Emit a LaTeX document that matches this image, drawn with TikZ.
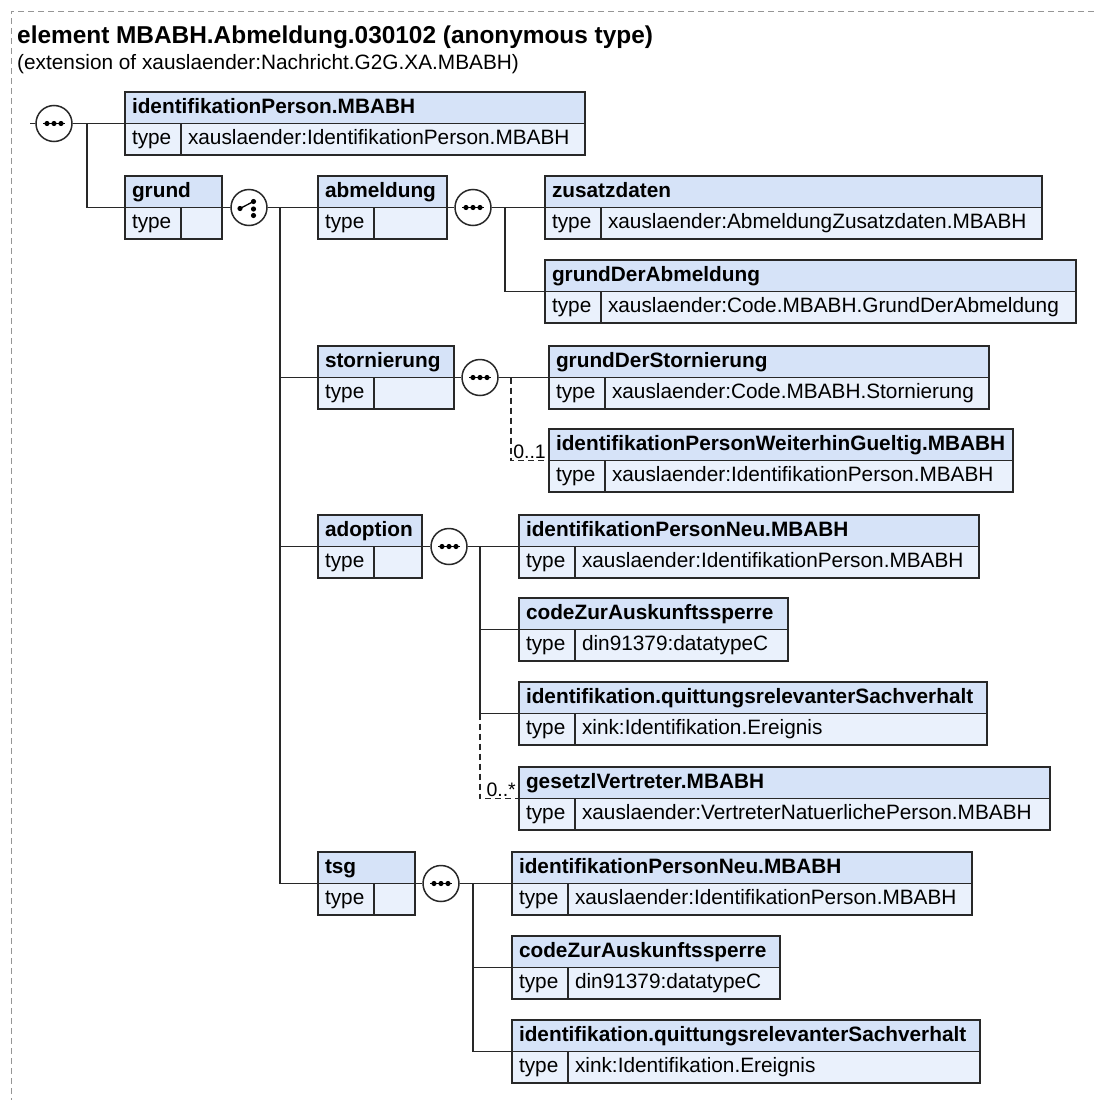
\documentclass[tikz,border=0pt]{standalone}
\usepackage{fontspec}
\setmainfont{Liberation Sans}
\definecolor{hdrblue}{RGB}{214,227,248}
\definecolor{rowblue}{RGB}{234,241,252}
\definecolor{edge}{RGB}{40,40,40}
\definecolor{frame}{RGB}{150,150,150}
\tikzset{
  txt/.style={font=\fontsize{20.8}{24}\selectfont},
  elhead/.style={draw=edge,fill=hdrblue,line width=1.4pt,anchor=north west,minimum height=31.5pt,outer sep=0pt,
    inner xsep=7pt,inner ysep=0pt,align=left,text height=15pt,text depth=4.5pt,font=\fontsize{20.8}{24}\selectfont\bfseries},
  eltype/.style={elhead,fill=rowblue,font=\fontsize{20.8}{24}\selectfont,text width=42pt},
  elval/.style={eltype},
  conn/.style={draw=edge,line width=1.5pt},
  optline/.style={dash pattern=on 6pt off 4pt},
  seqnode/.style={circle,draw=edge,fill=white,line width=1.5pt,minimum size=36pt,inner sep=0pt,
    path picture={\coordinate (c) at (path picture bounding box.center);
      \draw[black,line width=1.3pt] ([xshift=-11pt]c) -- ([xshift=11pt]c);
      \foreach \dx in {-7,0,7} \fill[black] ([xshift=\dx pt]c) circle (2.6pt);}},
  chonode/.style={circle,draw=edge,fill=white,line width=1.5pt,minimum size=36pt,inner sep=0pt,
    path picture={\coordinate (c) at (path picture bounding box.center);
      \draw[black,line width=1.3pt] ([xshift=-9pt,yshift=-1pt]c) -- ([xshift=4.5pt,yshift=6pt]c);
      \foreach \dx/\dy in {-9/-1,4.5/6,4.5/-1.5,4.5/-8} \fill[black] ([xshift=\dx pt,yshift=\dy pt]c) circle (2.6pt);}},
  mult/.style={font=\fontsize{19.5}{22}\selectfont,anchor=south east,inner sep=1pt}
}
% element box: name, left, top, right, header, type
\newcommand{\xelem}[6]{%
  \pgfmathsetmacro\hw{#4-#2-14}%
  \pgfmathsetmacro\vw{#4-#2-56-14}%
  \node[elhead,text width=\hw pt] (#1) at (#2,#3) {#5};
  \node[eltype] (#1t) at (#1.south west) {type};
  \node[elval,text width=\vw pt] (#1v) at (#1t.north east) {#6};
}
\begin{document}
\begin{tikzpicture}[x=1pt,y=-1pt]
\useasboundingbox (0,0) rectangle (1094,1100);
\draw[frame,line width=1pt,dash pattern=on 6pt off 4pt] (1094,11) -- (11,11) -- (11,1100);
\node[anchor=base west,inner sep=0pt,font=\bfseries\fontsize{24.4}{28}\selectfont] (title) at (17,43) {element MBABH.Abmeldung.030102 (anonymous type)};
\node[txt,anchor=base west,inner sep=0pt] (subtitle) at (17,69) {(extension of xauslaender:Nachricht.G2G.XA.MBABH)};

\xelem{idPers}{125}{92}{585}{identifikationPerson.MBABH}{xauslaender:IdentifikationPerson.MBABH}
\xelem{grund}{125}{176}{222}{grund}{}
\xelem{abm}{318}{176}{447}{abmeldung}{}
\xelem{zus}{545}{176}{1042}{zusatzdaten}{xauslaender:AbmeldungZusatzdaten.MBABH}
\xelem{gda}{545}{260}{1076}{grundDerAbmeldung}{xauslaender:Code.MBABH.GrundDerAbmeldung}
\xelem{sto}{318}{346}{454}{stornierung}{}
\xelem{gds}{549}{346}{989}{grundDerStornierung}{xauslaender:Code.MBABH.Stornierung}
\xelem{ipw}{549}{429}{1013}{identifikationPersonWeiterhinGueltig.MBABH}{xauslaender:IdentifikationPerson.MBABH}
\xelem{ado}{318}{515}{422}{adoption}{}
\xelem{ipnA}{519}{515}{979}{identifikationPersonNeu.MBABH}{xauslaender:IdentifikationPerson.MBABH}
\xelem{czA}{519}{598}{788}{codeZurAuskunftssperre}{din91379:datatypeC}
\xelem{iqA}{519}{682}{987}{identifikation.quittungsrelevanterSachverhalt}{xink:Identifikation.Ereignis}
\xelem{gv}{519}{767}{1050}{gesetzlVertreter.MBABH}{xauslaender:VertreterNatuerlichePerson.MBABH}
\xelem{tsg}{318}{852}{415}{tsg}{}
\xelem{ipnT}{512}{852}{972}{identifikationPersonNeu.MBABH}{xauslaender:IdentifikationPerson.MBABH}
\xelem{czT}{512}{936}{780}{codeZurAuskunftssperre}{din91379:datatypeC}
\xelem{iqT}{512}{1020}{980}{identifikation.quittungsrelevanterSachverhalt}{xink:Identifikation.Ereignis}

\node[seqnode] (seq0) at (54,123.5) {};
\node[chonode] (cho) at (249,207.5) {};
\node[seqnode] (seqA) at (473,207.5) {};
\node[seqnode] (seqS) at (480,377.5) {};
\node[seqnode] (seqD) at (449,546.5) {};
\node[seqnode] (seqT) at (441,883.5) {};
\coordinate (in0) at (30,123.5);
\coordinate (j0) at (87,123.5);
\coordinate (j1) at (280,207.5);
\coordinate (jA) at (505,207.5);
\coordinate (jS) at (511,377.5);
\coordinate (jD) at (480,546.5);
\coordinate (jT) at (473,883.5);

\draw[conn] (in0) -- (seq0);
\draw[conn] (seq0) -- (idPers.south west);
\draw[conn] (j0) |- (grund.south west);
\draw[conn] (grund.south east) -- (cho);
\draw[conn] (cho) -- (abm.south west);
\draw[conn] (j1) |- (sto.south west);
\draw[conn] (j1) |- (ado.south west);
\draw[conn] (j1) |- (tsg.south west);
\draw[conn] (abm.south east) -- (seqA);
\draw[conn] (seqA) -- (zus.south west);
\draw[conn] (jA) |- (gda.south west);
\draw[conn] (sto.south east) -- (seqS);
\draw[conn] (seqS) -- (gds.south west);
\draw[conn,optline] (jS) |- (ipw.south west);
\node[mult] (multS) at ([xshift=-2pt,yshift=1pt]ipw.south west) {0..1};
\draw[conn] (ado.south east) -- (seqD);
\draw[conn] (seqD) -- (ipnA.south west);
\draw[conn] (jD) |- (czA.south west);
\draw[conn] (jD) |- (iqA.south west);
\draw[conn,optline] (jD |- iqA.south west) |- (gv.south west);
\node[mult] (multD) at ([xshift=-2pt,yshift=1pt]gv.south west) {0..*};
\draw[conn] (tsg.south east) -- (seqT);
\draw[conn] (seqT) -- (ipnT.south west);
\draw[conn] (jT) |- (czT.south west);
\draw[conn] (jT) |- (iqT.south west);
\end{tikzpicture}
\end{document}
